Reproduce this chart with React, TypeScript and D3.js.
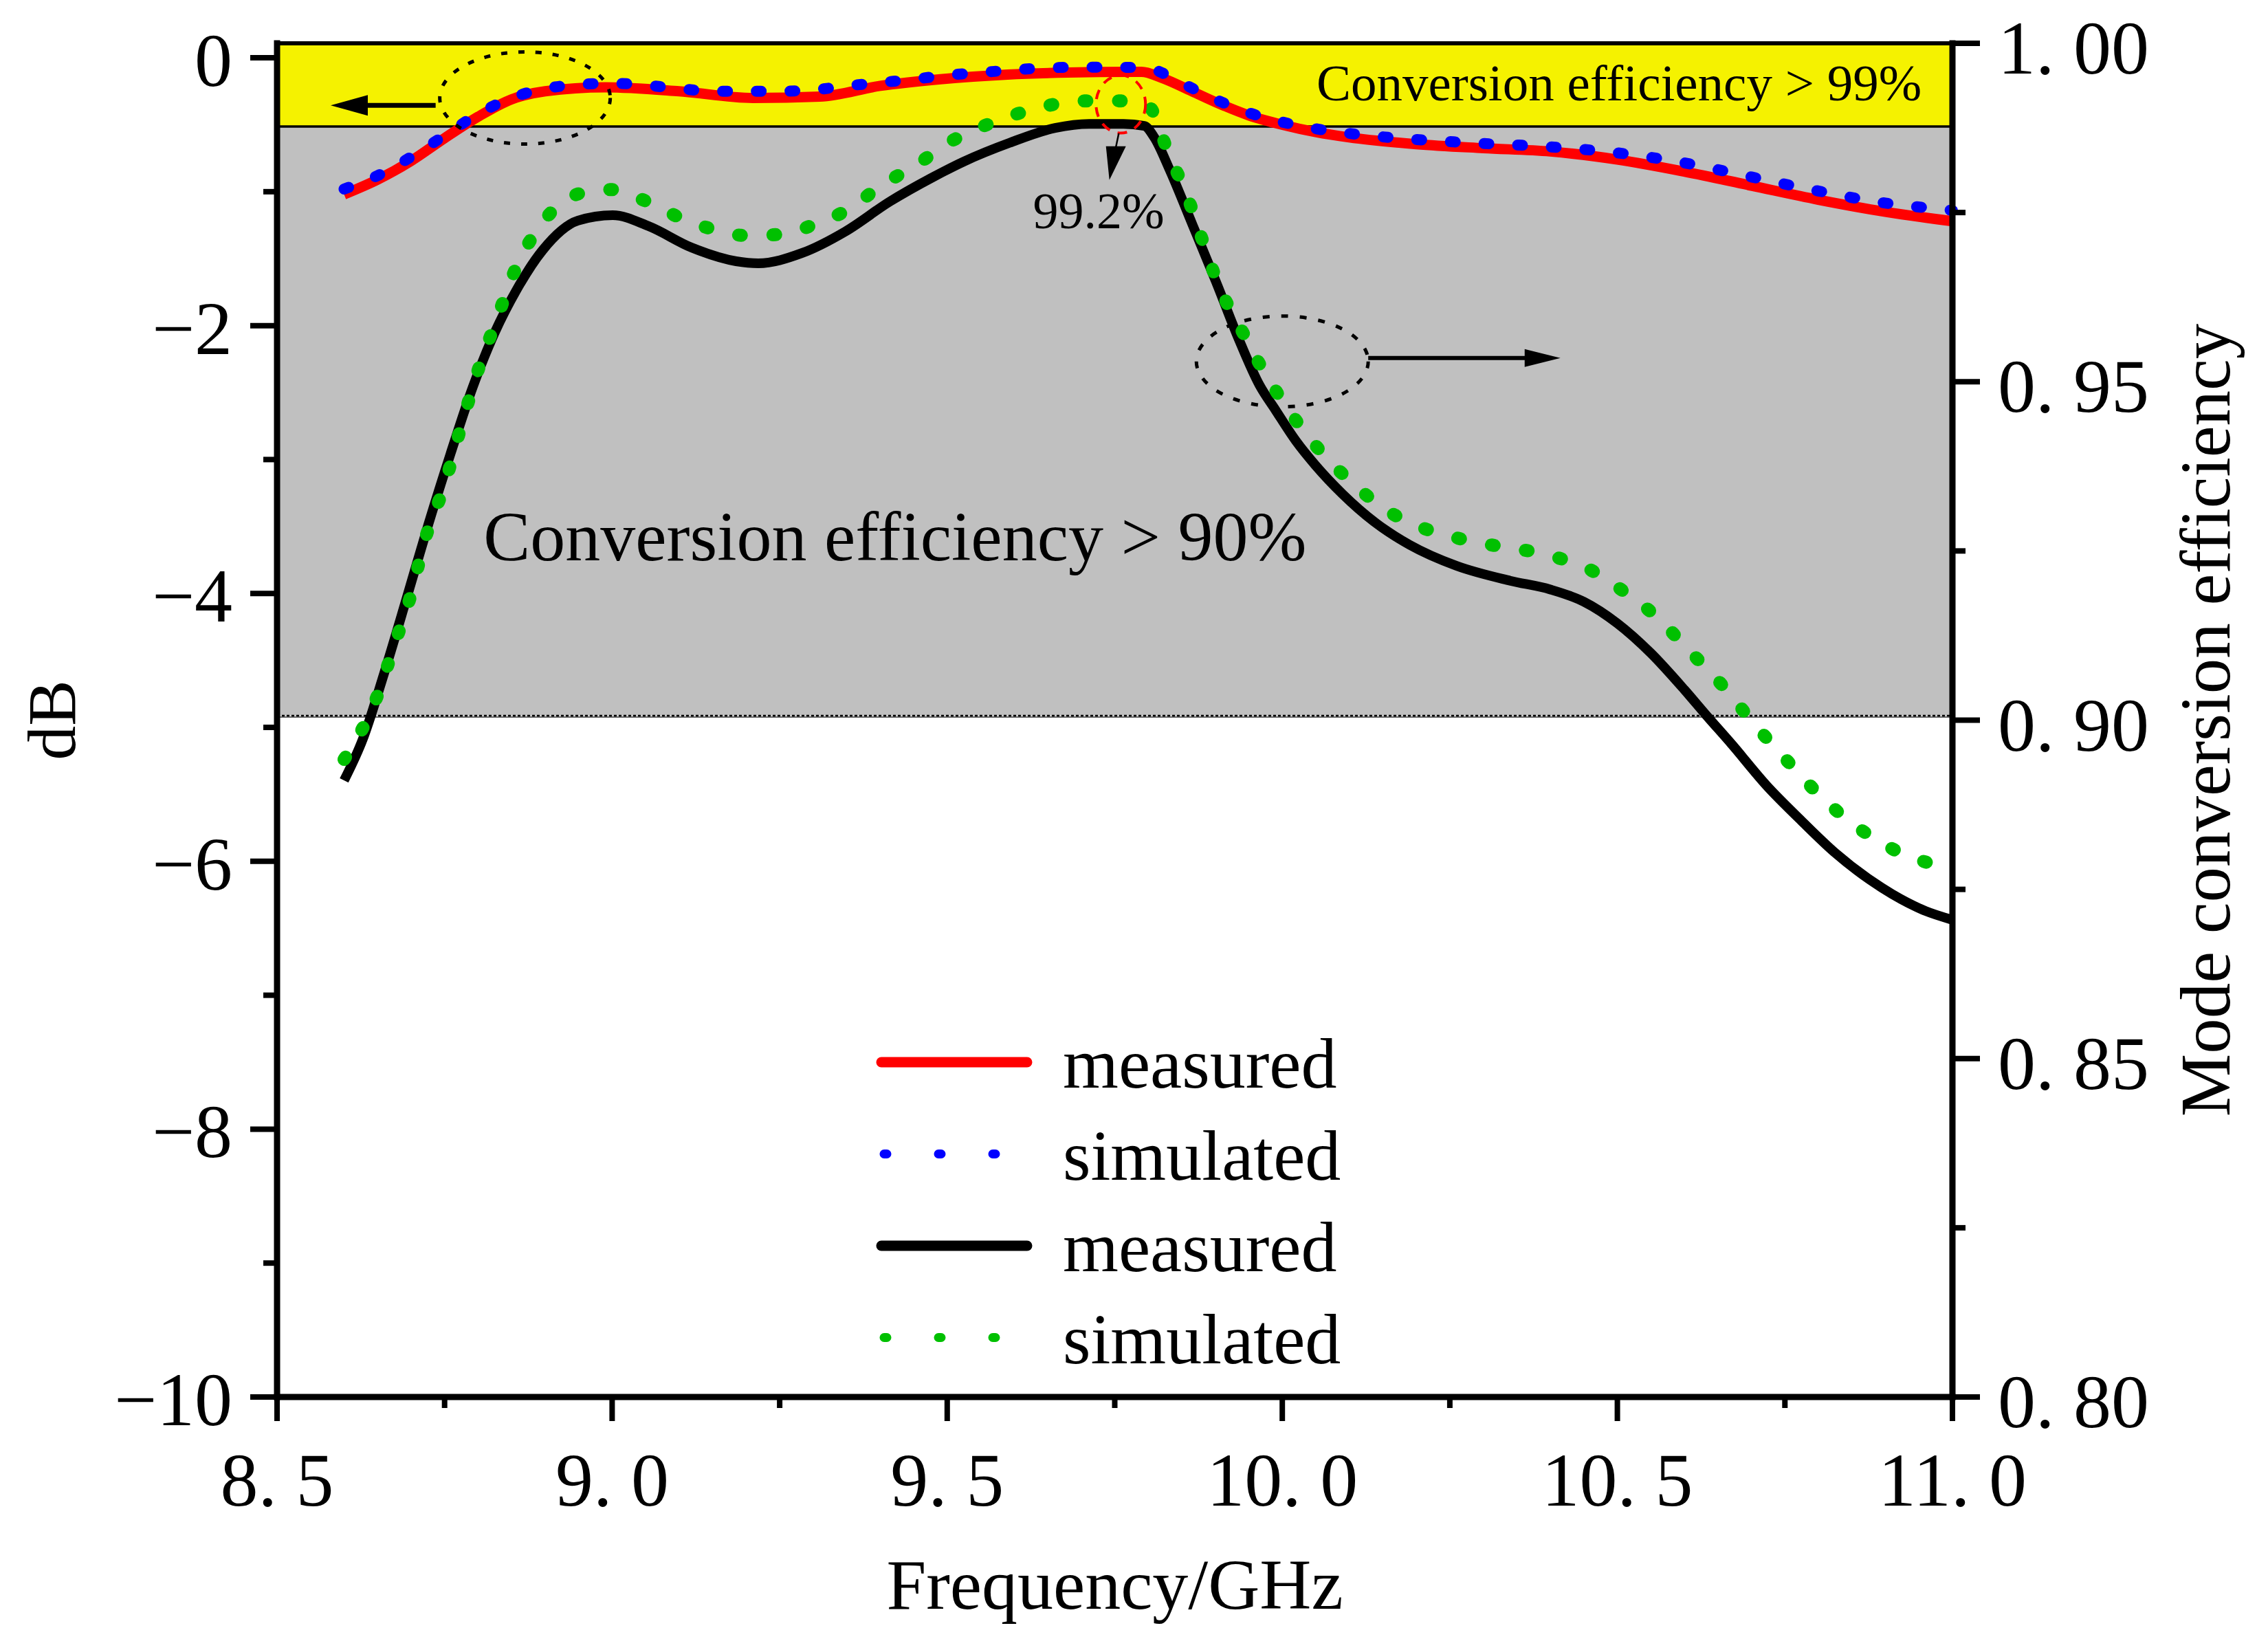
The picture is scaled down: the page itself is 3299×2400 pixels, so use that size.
import * as d3 from "d3"
import { useEffect, useRef } from "react"

// frequency axis and the two value axes
const FREQ_TICKS = [8.5, 9, 9.5, 10, 10.5, 11]
const FREQ_MINOR = [8.75, 9.25, 9.75, 10.25, 10.75]
const DB_TICKS = [0, -2, -4, -6, -8, -10]
const DB_MINOR = [-1, -3, -5, -7, -9]
const EFF_TICKS = [1, 0.95, 0.9, 0.85, 0.8]
const EFF_MINOR = [0.975, 0.925, 0.875, 0.825]

// efficiency limits of the shaded bands
const BAND_99 = 0.9877
const BAND_90 = 0.9006

// dB curves (left axis)
const redFreq = [8.6, 8.65, 8.7, 8.75, 8.8, 8.85, 8.9, 8.99, 9.1, 9.21, 9.31, 9.4, 9.49, 9.59, 9.68, 9.77, 9.79, 9.82, 9.865, 9.9, 9.95, 10.0, 10.05, 10.1, 10.2, 10.3, 10.4, 10.5, 10.6, 10.7, 10.8, 10.9, 11.0]
const redDb = [-1.02, -0.91, -0.77, -0.6, -0.44, -0.31, -0.25, -0.22, -0.25, -0.3, -0.29, -0.21, -0.16, -0.125, -0.11, -0.105, -0.105, -0.15, -0.25, -0.33, -0.43, -0.5, -0.555, -0.595, -0.645, -0.675, -0.7, -0.76, -0.85, -0.955, -1.06, -1.15, -1.22]

const blueFreq = [8.6, 8.65, 8.7, 8.75, 8.8, 8.85, 8.9, 8.95, 9.0, 9.05, 9.1, 9.15, 9.2, 9.25, 9.3, 9.35, 9.4, 9.45, 9.5, 9.55, 9.6, 9.65, 9.7, 9.75, 9.8, 9.85, 9.9, 9.95, 10.0, 10.05, 10.1, 10.2, 10.3, 10.4, 10.5, 10.6, 10.7, 10.8, 10.9, 10.96, 11.0]
const blueDb = [-0.98, -0.88, -0.74, -0.58, -0.42, -0.3, -0.23, -0.2, -0.19, -0.205, -0.23, -0.25, -0.25, -0.25, -0.24, -0.21, -0.185, -0.16, -0.13, -0.11, -0.09, -0.075, -0.07, -0.07, -0.08, -0.19, -0.31, -0.41, -0.48, -0.53, -0.565, -0.61, -0.64, -0.665, -0.71, -0.785, -0.89, -0.995, -1.085, -1.12, -1.14]

// conversion efficiency curves (right axis)
const blackFreq = [8.6, 8.628, 8.66, 8.693, 8.726, 8.759, 8.792, 8.825, 8.857, 8.896, 8.949, 9.001, 9.054, 9.119, 9.185, 9.218, 9.283, 9.348, 9.414, 9.48, 9.524, 9.593, 9.661, 9.712, 9.763, 9.794, 9.809, 9.832, 9.866, 9.901, 9.935, 9.966, 9.99, 10.02, 10.05, 10.09, 10.14, 10.19, 10.26, 10.34, 10.4, 10.45, 10.5, 10.55, 10.6, 10.632, 10.671, 10.723, 10.774, 10.825, 10.877, 10.91, 10.96, 11.0]
const blackEff = [0.8911, 0.8972, 0.907, 0.9179, 0.929, 0.9394, 0.9492, 0.9573, 0.9635, 0.9694, 0.9738, 0.9746, 0.973, 0.9698, 0.9678, 0.9675, 0.969, 0.9722, 0.9766, 0.9803, 0.9825, 0.9853, 0.9875, 0.9881, 0.9881, 0.9878, 0.9861, 0.9813, 0.9732, 0.9648, 0.9563, 0.9495, 0.9458, 0.9413, 0.9376, 0.9334, 0.9291, 0.9259, 0.9228, 0.9206, 0.9193, 0.9175, 0.9143, 0.9099, 0.9045, 0.9008, 0.8964, 0.8903, 0.8852, 0.8804, 0.8764, 0.8743, 0.8718, 0.8705]

const greenFreq = [8.6, 8.65, 8.675, 8.7, 8.72, 8.75, 8.775, 8.8, 8.83, 8.85, 8.9, 8.955, 9.0, 9.05, 9.1, 9.155, 9.2, 9.255, 9.305, 9.355, 9.4, 9.455, 9.5, 9.555, 9.605, 9.655, 9.705, 9.755, 9.8, 9.833, 9.854, 9.882, 9.904, 9.941, 9.954, 9.998, 10.053, 10.105, 10.156, 10.207, 10.257, 10.306, 10.4, 10.458, 10.507, 10.557, 10.606, 10.657, 10.707, 10.759, 10.807, 10.858, 10.908, 10.958, 10.98]
const greenEff = [0.8942, 0.9037, 0.9111, 0.9186, 0.9264, 0.9348, 0.9435, 0.9517, 0.9598, 0.9653, 0.974, 0.9779, 0.9784, 0.9767, 0.9743, 0.9724, 0.9716, 0.9718, 0.9734, 0.9756, 0.9789, 0.9821, 0.9852, 0.9878, 0.9896, 0.9909, 0.9915, 0.9915, 0.9907, 0.983, 0.9785, 0.9706, 0.9645, 0.9573, 0.9548, 0.9475, 0.9402, 0.935, 0.931, 0.9285, 0.927, 0.926, 0.9243, 0.9223, 0.9192, 0.9154, 0.9104, 0.9051, 0.8991, 0.8934, 0.8884, 0.8842, 0.8811, 0.8791, 0.8785]

const LEGEND = ["measured", "simulated", "measured", "simulated"]

const WIDTH = 3299
const HEIGHT = 2400
const FONT = '"Liberation Serif", "Times New Roman", serif'

const App = () => {
  const svgRef = useRef<SVGSVGElement>(null)

  useEffect(() => {
    if (!svgRef.current) return
    const svg = d3.select(svgRef.current)
    svg.selectAll("*").remove()

    const MARGIN = { top: 63, right: 459, bottom: 368, left: 403 }
    const x0 = MARGIN.left
    const x1 = WIDTH - MARGIN.right
    const y0 = MARGIN.top
    const y1 = HEIGHT - MARGIN.bottom

    const x = d3.scaleLinear().domain([8.5, 11]).range([x0, x1])
    const yL = d3.scaleLinear().domain([-10, 0.108]).range([y1, y0])
    const yR = d3.scaleLinear().domain([0.8, 1]).range([y1, y0])

    svg.append("rect").attr("width", WIDTH).attr("height", HEIGHT).attr("fill", "#fff")

    // bands
    svg.append("rect")
      .attr("x", x0).attr("y", yR(1))
      .attr("width", x1 - x0).attr("height", yR(BAND_99) - yR(1))
      .attr("fill", "#f5f200")
    svg.append("rect")
      .attr("x", x0).attr("y", yR(BAND_99))
      .attr("width", x1 - x0).attr("height", yR(BAND_90) - yR(BAND_99))
      .attr("fill", "#c0c0c0")
    svg.append("line")
      .attr("x1", x0).attr("x2", x1)
      .attr("y1", yR(BAND_99)).attr("y2", yR(BAND_99))
      .attr("stroke", "#000").attr("stroke-width", 3.5)
    svg.append("line")
      .attr("x1", x0).attr("x2", x1)
      .attr("y1", yR(BAND_90) + 1.5).attr("y2", yR(BAND_90) + 1.5)
      .attr("stroke", "#333").attr("stroke-width", 1.5)
    svg.append("line")
      .attr("x1", x0).attr("x2", x1)
      .attr("y1", yR(BAND_90) - 0.5).attr("y2", yR(BAND_90) - 0.5)
      .attr("stroke", "#000").attr("stroke-width", 2.5)
      .attr("stroke-dasharray", "4,3")

    const lineL = d3.line<[number, number]>()
      .x((d) => x(d[0])).y((d) => yL(d[1]))
      .curve(d3.curveMonotoneX)
    const lineR = d3.line<[number, number]>()
      .x((d) => x(d[0])).y((d) => yR(d[1]))
      .curve(d3.curveMonotoneX)

    const series = [
      { d: lineL(d3.zip(redFreq, redDb) as [number, number][]), color: "#ff0000", w: 15, dash: null },
      { d: lineL(d3.zip(blueFreq, blueDb) as [number, number][]), color: "#0000ff", w: 16, dash: "7,42" },
      { d: lineR(d3.zip(blackFreq, blackEff) as [number, number][]), color: "#000000", w: 14, dash: null },
      { d: lineR(d3.zip(greenFreq, greenEff) as [number, number][]), color: "#00c000", w: 19, dash: "4,46" },
    ]
    svg.selectAll("path.curve")
      .data(series)
      .join("path")
      .attr("class", "curve")
      .attr("d", (s) => s.d)
      .attr("fill", "none")
      .attr("stroke", (s) => s.color)
      .attr("stroke-width", (s) => s.w)
      .attr("stroke-linecap", (s) => (s.dash ? "round" : "butt"))
      .attr("stroke-linejoin", "round")
      .attr("stroke-dasharray", (s) => s.dash)

    // annotations
    const ann = svg.append("g")
    ann.append("ellipse")
      .attr("cx", x(8.87)).attr("cy", yL(-0.3)).attr("rx", 124).attr("ry", 67)
      .attr("fill", "none").attr("stroke", "#000").attr("stroke-width", 5)
      .attr("stroke-dasharray", "9,16")
    ann.append("line")
      .attr("x1", x(8.87) - 130).attr("x2", x(8.58) + 45)
      .attr("y1", yL(-0.355)).attr("y2", yL(-0.355))
      .attr("stroke", "#000").attr("stroke-width", 7)
    ann.append("path")
      .attr("d", `M${x(8.58)},${yL(-0.355)} L${x(8.58) + 54},${yL(-0.355) - 15} L${x(8.58) + 54},${yL(-0.355) + 15} Z`)
      .attr("fill", "#000")

    ann.append("ellipse")
      .attr("cx", x(10.0)).attr("cy", yR(0.953)).attr("rx", 125).attr("ry", 66)
      .attr("fill", "none").attr("stroke", "#000").attr("stroke-width", 5)
      .attr("stroke-dasharray", "10,17")
    ann.append("line")
      .attr("x1", x(10.0) + 125).attr("x2", x(10.415) - 45)
      .attr("y1", yR(0.9535)).attr("y2", yR(0.9535))
      .attr("stroke", "#000").attr("stroke-width", 6)
    ann.append("path")
      .attr("d", `M${x(10.415)},${yR(0.9535)} L${x(10.415) - 52},${yR(0.9535) - 13} L${x(10.415) - 52},${yR(0.9535) + 13} Z`)
      .attr("fill", "#000")

    ann.append("ellipse")
      .attr("cx", x(9.759)).attr("cy", yR(0.991)).attr("rx", 36).attr("ry", 42)
      .attr("fill", "none").attr("stroke", "#ff0000").attr("stroke-width", 4)
      .attr("stroke-dasharray", "14,12")
    ann.append("line")
      .attr("x1", x(9.756)).attr("y1", yR(0.9867))
      .attr("x2", x(9.745)).attr("y2", yR(0.9815))
      .attr("stroke", "#000").attr("stroke-width", 2.5)
    ann.append("path")
      .attr("d", `M${x(9.742)},${yR(0.9798)} L${x(9.742) - 5},${yR(0.9848)} L${x(9.742) + 24},${yR(0.9848)} Z`)
      .attr("fill", "#000")
    ann.append("text")
      .attr("x", x(9.628)).attr("y", yR(0.9727))
      .attr("font-family", FONT).attr("font-size", 74)
      .text("99.2%")

    ann.append("text")
      .attr("x", x(10.954)).attr("y", yL(-0.318))
      .attr("text-anchor", "end")
      .attr("font-family", FONT).attr("font-size", 75)
      .text("Conversion efficiency > 99%")
    ann.append("text")
      .attr("x", x(8.808)).attr("y", yL(-3.75))
      .attr("font-family", FONT).attr("font-size", 102)
      .text("Conversion efficiency > 90%")

    // frame
    const frame = svg.append("g").attr("stroke", "#000").attr("stroke-linecap", "square")
    frame.append("line").attr("x1", x0).attr("x2", x0).attr("y1", y0).attr("y2", y1).attr("stroke-width", 9)
    frame.append("line").attr("x1", x0).attr("x2", x1).attr("y1", y1).attr("y2", y1).attr("stroke-width", 9)
    frame.append("line").attr("x1", x1).attr("x2", x1).attr("y1", y0).attr("y2", y1).attr("stroke-width", 9)
    frame.append("line").attr("x1", x0).attr("x2", x1).attr("y1", y0).attr("y2", y0).attr("stroke-width", 6)

    // ticks
    const ticks = svg.append("g").attr("stroke", "#000").attr("stroke-width", 8)
    ticks.selectAll("line.xmaj").data(FREQ_TICKS).join("line").attr("class", "xmaj")
      .attr("x1", (d) => x(d)).attr("x2", (d) => x(d)).attr("y1", y1).attr("y2", y1 + 35)
    ticks.selectAll("line.xmin").data(FREQ_MINOR).join("line").attr("class", "xmin")
      .attr("x1", (d) => x(d)).attr("x2", (d) => x(d)).attr("y1", y1).attr("y2", y1 + 16)
    ticks.selectAll("line.lmaj").data(DB_TICKS).join("line").attr("class", "lmaj")
      .attr("x1", x0).attr("x2", x0 - 39).attr("y1", (d) => yL(d)).attr("y2", (d) => yL(d))
    ticks.selectAll("line.lmin").data(DB_MINOR).join("line").attr("class", "lmin")
      .attr("x1", x0).attr("x2", x0 - 20).attr("y1", (d) => yL(d)).attr("y2", (d) => yL(d))
    ticks.selectAll("line.rmaj").data(EFF_TICKS).join("line").attr("class", "rmaj")
      .attr("x1", x1).attr("x2", x1 + 40).attr("y1", (d) => yR(d)).attr("y2", (d) => yR(d))
    ticks.selectAll("line.rmin").data(EFF_MINOR).join("line").attr("class", "rmin")
      .attr("x1", x1).attr("x2", x1 + 19).attr("y1", (d) => yR(d)).attr("y2", (d) => yR(d))

    // tick labels
    const spaced = (s: string) => s.replace(".", ". ")
    const labels = svg.append("g").attr("font-family", FONT).attr("font-size", 110).attr("fill", "#000")
    labels.selectAll("text.xl").data(FREQ_TICKS).join("text").attr("class", "xl")
      .attr("x", (d) => x(d)).attr("y", y1 + 158)
      .attr("text-anchor", "middle")
      .text((d) => spaced(d3.format(".1f")(d)))
    labels.selectAll("text.ll").data(DB_TICKS).join("text").attr("class", "ll")
      .attr("x", x0 - 65).attr("y", (d) => yL(d) + 41)
      .attr("text-anchor", "end")
      .text((d) => d3.format("d")(d))
    labels.selectAll("text.rl").data(EFF_TICKS).join("text").attr("class", "rl")
      .attr("x", x1 + 66).attr("y", (d) => yR(d) + 44)
      .text((d) => spaced(d3.format(".2f")(d)))

    // axis titles
    svg.append("text")
      .attr("x", (x0 + x1) / 2).attr("y", 2340)
      .attr("text-anchor", "middle")
      .attr("font-family", FONT).attr("font-size", 104)
      .text("Frequency/GHz")
    svg.append("text")
      .attr("transform", `translate(109, ${(y0 + y1) / 2}) rotate(-90)`)
      .attr("text-anchor", "middle")
      .attr("font-family", FONT).attr("font-size", 100)
      .text("dB")
    svg.append("text")
      .attr("transform", `translate(3243, ${(y0 + y1) / 2}) rotate(-90)`)
      .attr("text-anchor", "middle")
      .attr("font-family", FONT).attr("font-size", 103)
      .text("Mode conversion efficiency")

    // legend
    const rows = series.map((s, i) => ({ ...s, label: LEGEND[i], y: 1545 + i * 133.5 }))
    const legend = svg.append("g")
    legend.selectAll("line.key").data(rows).join("line").attr("class", "key")
      .attr("x1", (r) => (r.dash ? 1286 : 1282)).attr("x2", (r) => (r.dash ? 1450 : 1494))
      .attr("y1", (r) => r.y).attr("y2", (r) => r.y)
      .attr("stroke", (r) => r.color)
      .attr("stroke-width", (r) => (r.dash ? 13 : 15))
      .attr("stroke-linecap", "round")
      .attr("stroke-dasharray", (r) => (r.dash ? "4,75" : null))
    legend.selectAll("text.key").data(rows).join("text").attr("class", "key")
      .attr("x", 1546).attr("y", (r) => r.y + 37)
      .attr("font-family", FONT).attr("font-size", 104)
      .text((r) => r.label)
  }, [])

  return (
    <svg
      ref={svgRef}
      width={WIDTH}
      height={HEIGHT}
      style={{ position: "absolute", left: 0, top: 0, display: "block" }}
    />
  )
}

export default App
